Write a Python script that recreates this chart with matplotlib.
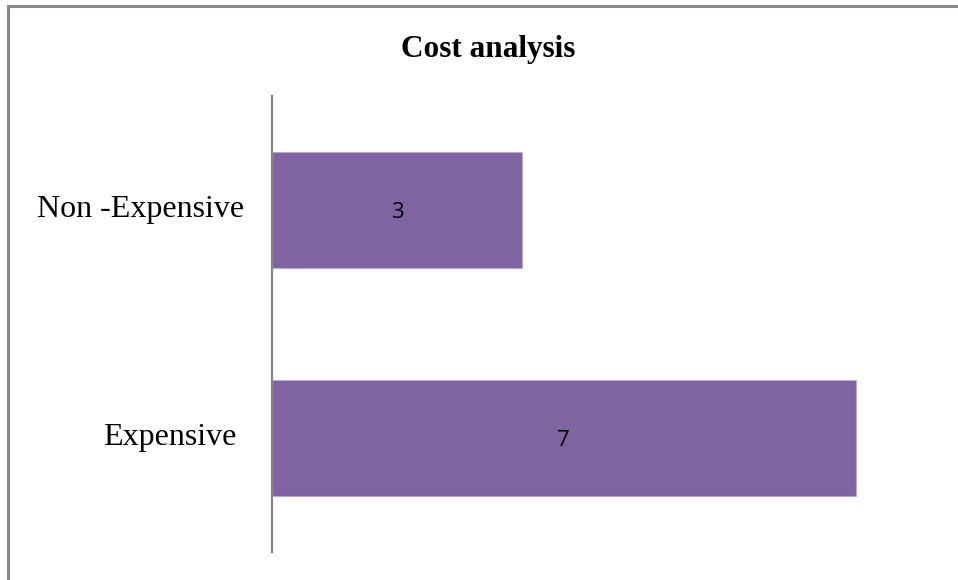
import matplotlib.pyplot as plt
from matplotlib.patches import Rectangle

categories = ["Expensive", "Non -Expensive"]
counts = [7, 3]

fig = plt.figure(figsize=(9.58, 5.8), dpi=100)
fig.patch.set_facecolor("white")

# outer chart frame (open on right and bottom)
top = 1 - 6 / 580
frame = Rectangle((7.5 / 958, -0.05), 1.2, top + 0.05,
                  transform=fig.transFigure, fill=False,
                  edgecolor="#888888", linewidth=2.2, zorder=0)
fig.add_artist(frame)

ax = fig.add_axes([272 / 958, 28 / 580, (939 - 272) / 958, (552 - 96) / 580])

ypos = list(range(len(categories)))
bars = ax.barh(ypos, counts, height=0.51, color="#8064A2",
               edgecolor="#B9A8D2", linewidth=0.8)

for y, v in zip(ypos, counts):
    ax.text(v / 2, y - 0.01, str(v), ha="center", va="center",
            fontsize=16, family="Open Sans", color="black")

ax.set_xlim(0, 8)
ax.set_ylim(-0.5, 1.5)
ax.set_xticks([])
ax.set_yticks([])

# category labels, right-aligned against the axis
label_pad = {"Expensive": 36, "Non -Expensive": 28}
for y, name in zip(ypos, categories):
    ax.annotate(name, xy=(0, y), xycoords=("axes fraction", "data"),
                xytext=(-label_pad[name], 0), textcoords="offset pixels",
                ha="right", va="center", fontsize=23,
                family="Liberation Serif", color="black")

for side in ["top", "right", "bottom"]:
    ax.spines[side].set_visible(False)
ax.spines["left"].set_color("#868686")
ax.spines["left"].set_linewidth(1.6)

fig.text(488 / 958, 1 - 50 / 580, "Cost analysis", ha="center", va="center",
         fontsize=22.5, fontweight="bold", family="Liberation Serif")

fig.savefig("out.png", dpi=100)
